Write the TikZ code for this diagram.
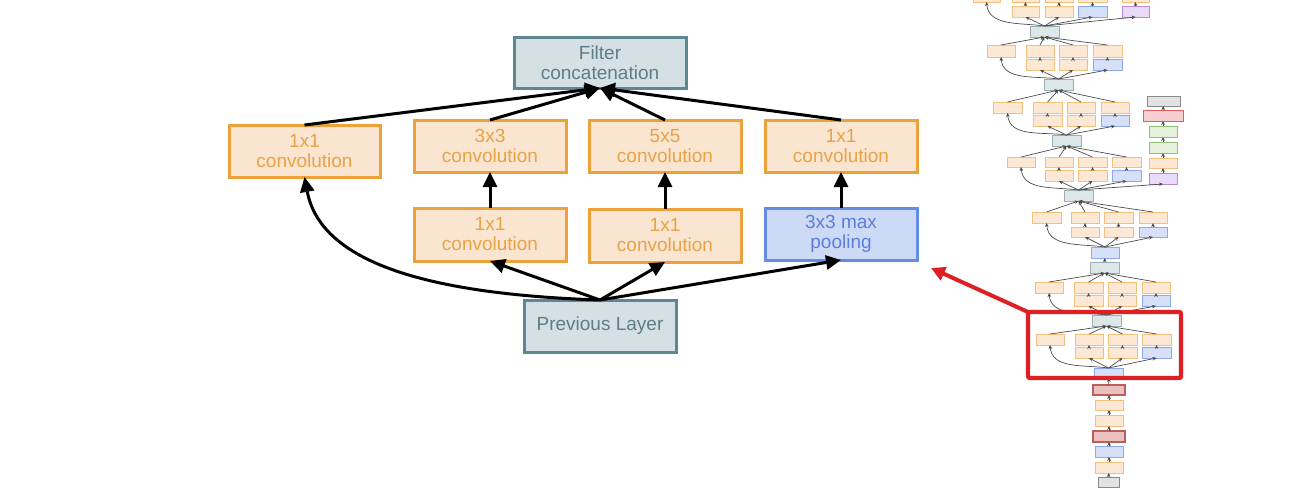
\documentclass[tikz,border=0pt]{standalone}
\usepackage{fontspec}
\setmainfont{Liberation Sans}
\usetikzlibrary{arrows.meta}
\definecolor{morange}{RGB}{238,160,58}
\definecolor{morangef}{RGB}{250,229,208}
\definecolor{morangetx}{RGB}{232,162,72}
\definecolor{mgray}{RGB}{95,135,145}
\definecolor{mgrayf}{RGB}{213,224,228}
\definecolor{mgraytx}{RGB}{95,125,135}
\definecolor{mblue}{RGB}{100,140,230}
\definecolor{mbluef}{RGB}{205,218,245}
\definecolor{mbluetx}{RGB}{95,125,220}
\definecolor{hred}{RGB}{222,32,36}
\definecolor{torange}{RGB}{243,192,124}
\definecolor{torangef}{RGB}{252,232,212}
\definecolor{tblue}{RGB}{143,168,236}
\definecolor{tbluef}{RGB}{214,224,248}
\definecolor{tgray}{RGB}{154,176,182}
\definecolor{tgrayf}{RGB}{221,230,232}
\definecolor{tpurple}{RGB}{181,138,224}
\definecolor{tpurplef}{RGB}{234,220,248}
\definecolor{tlrn}{RGB}{184,96,96}
\definecolor{tlrnf}{RGB}{237,192,192}
\definecolor{tsm}{RGB}{224,96,96}
\definecolor{tsmf}{RGB}{246,208,208}
\definecolor{tgreen}{RGB}{147,191,122}
\definecolor{tgreenf}{RGB}{228,242,220}
\definecolor{tgrey}{RGB}{138,138,138}
\definecolor{tgreyf}{RGB}{226,226,226}
\newcommand\mbx[7]{\node[#2, minimum width={#5*0.5pt}, minimum height={#6*0.5pt}] (#1) at (#3,#4) {#7};}
\newcommand\tbx[6]{\node[#2, minimum width={(#5-#3)*0.5pt}, minimum height={(#6-#4)*0.5pt}] (#1) at ({(#3+#5)/2},{(#4+#6)/2}) {};}
\newcommand\incin[2]{%
  \draw[tc] (#2.north) to[out=172,in=-85] (#1u1.south);
  \foreach \k in {2,3,4}{\draw[tc] (#2.north) -- (#1l\k.south); \draw[tc] (#1l\k.north) -- (#1u\k.south);}
}
\newcommand\incout[2]{%
  \foreach \k in {1,2,3,4}{\draw[tc] (#1u\k.north) -- (#2.south);}
}
\begin{document}
\begin{tikzpicture}[x=0.5pt,y=-0.5pt,
  mbox/.style={draw, line width=1.5pt, inner sep=0pt, outer sep=0pt, align=center, font=\fontsize{9.5}{10}\selectfont},
  mo/.style={mbox, draw=morange, fill=morangef, text=morangetx},
  mg/.style={mbox, draw=mgray, fill=mgrayf, text=mgraytx},
  mb/.style={mbox, draw=mblue, fill=mbluef, text=mbluetx},
  marr/.style={line width=1.5pt, black, -{Triangle[length=7.5pt,width=7pt]}},
  harr/.style={line width=2pt, hred, -{Triangle[length=7pt,width=7pt]}},
  tbase/.style={draw, line width=0.5pt, inner sep=0pt, outer sep=0pt},
  to/.style={tbase, draw=torange, fill=torangef},
  tb/.style={tbase, draw=tblue, fill=tbluef},
  tg/.style={tbase, draw=tgray, fill=tgrayf},
  tp/.style={tbase, draw=tpurple, fill=tpurplef},
  tr/.style={tbase, draw=tlrn, fill=tlrnf, line width=0.7pt},
  ts/.style={tbase, draw=tsm, fill=tsmf},
  tgr/.style={tbase, draw=tgreen, fill=tgreenf},
  tgy/.style={tbase, draw=tgrey, fill=tgreyf},
  tc/.style={draw=black!70, line width=0.35pt, -{Stealth[length=2pt,width=1.8pt]}},
  hbox/.style={draw=hred, line width=2.2pt, inner sep=0pt, outer sep=0pt, rounded corners=1pt}
]
\useasboundingbox (0,0) rectangle (1310,493);

% ---------------- main inception module ----------------
\mbx{concat}{mg}{600}{62.5}{172}{51}{Filter\\concatenation}
\mbx{c1}{mo}{304.5}{151}{151}{52}{1x1\\convolution}
\mbx{c3}{mo}{490}{146}{152}{52}{3x3\\convolution}
\mbx{c5}{mo}{665}{146}{152}{52}{5x5\\convolution}
\mbx{cp}{mo}{841}{146}{152}{52}{1x1\\convolution}
\mbx{r3}{mo}{490}{234.5}{152}{53}{1x1\\convolution}
\mbx{r5}{mo}{665}{235.5}{152}{53}{1x1\\convolution}
\mbx{pool}{mb}{841}{234}{152}{52}{3x3 max\\pooling}
\mbx{prev}{mg}{600}{326}{152}{52}{Previous Layer}

\foreach \n in {c1,c3,c5,cp}{\draw[marr] (\n.north) -- (concat.south);}
\draw[marr] (r3.north) -- (c3.south);
\draw[marr] (r5.north) -- (c5.south);
\draw[marr] (pool.north) -- (cp.south);
\draw[marr] (prev.north) .. controls (420,294) and (320,260) .. (c1.south);
\draw[marr] (prev.north) -- (r3.south);
\draw[marr] (prev.north) -- (r5.south);
\draw[marr] (prev.north) -- (pool.south);

% ---------------- thumbnail network ----------------
\begin{scope}
\clip (0,0) rectangle (1310,493);
% stem
\tbx{p1}{tb}{1094}{368}{1123}{378}
\tbx{lrn1}{tr}{1093}{385}{1125}{395}
\tbx{s1}{to}{1095}{400}{1123}{410}
\tbx{s2}{to}{1095}{415}{1123}{426}
\tbx{lrn2}{tr}{1093}{431}{1125}{442}
\tbx{s3}{tb}{1095}{446}{1123}{457}
\tbx{s4}{to}{1095}{462}{1123}{473}
\tbx{inp}{tgy}{1098}{477}{1119}{487}
\draw[tc] (inp) -- (s4); \draw[tc] (s4) -- (s3); \draw[tc] (s3) -- (lrn2);
\draw[tc] (lrn2) -- (s2); \draw[tc] (s2) -- (s1); \draw[tc] (s1) -- (lrn1);
\draw[tc] (lrn1) -- (p1);
% module A
\tbx{dA}{tg}{1092}{315}{1121}{326}
\tbx{Au1}{to}{1036}{334}{1064}{345}
\tbx{Au2}{to}{1075}{334}{1103}{345}
\tbx{Au3}{to}{1108}{334}{1137}{345}
\tbx{Au4}{to}{1142}{334}{1171}{345}
\tbx{Al2}{to}{1075}{347}{1103}{358}
\tbx{Al3}{to}{1108}{347}{1137}{358}
\tbx{Al4}{tb}{1142}{347}{1171}{358}
\incin{A}{p1}\incout{A}{dA}
% module B
\tbx{dB}{tg}{1090}{262}{1119}{273}
\tbx{Bu1}{to}{1035}{282}{1063}{293}
\tbx{Bu2}{to}{1074}{282}{1103}{293}
\tbx{Bu3}{to}{1108}{282}{1136}{293}
\tbx{Bu4}{to}{1142}{282}{1170}{293}
\tbx{Bl2}{to}{1074}{295}{1103}{306}
\tbx{Bl3}{to}{1108}{295}{1136}{306}
\tbx{Bl4}{tb}{1142}{295}{1170}{306}
\incin{B}{dA}\incout{B}{dB}
\tbx{mp2}{tb}{1091}{247}{1119}{258}
\draw[tc] (dB) -- (mp2);
% module C
\tbx{dC}{tg}{1064}{190}{1093}{201}
\tbx{Cu1}{to}{1032}{212}{1061}{223}
\tbx{Cu2}{to}{1071}{212}{1099}{223}
\tbx{Cu3}{to}{1104}{212}{1133}{223}
\tbx{Cu4}{to}{1139}{212}{1167}{223}
\tbx{Cl2}{to}{1071}{227}{1099}{237}
\tbx{Cl3}{to}{1104}{227}{1133}{237}
\tbx{Cl4}{tb}{1139}{227}{1167}{237}
\incin{C}{mp2}\incout{C}{dC}
% module D
\tbx{dD}{tg}{1052}{135}{1081}{146}
\tbx{Du1}{to}{1007}{157}{1035}{167}
\tbx{Du2}{to}{1045}{157}{1073}{167}
\tbx{Du3}{to}{1078}{157}{1107}{167}
\tbx{Du4}{to}{1112}{157}{1141}{167}
\tbx{Dl2}{to}{1045}{170}{1073}{181}
\tbx{Dl3}{to}{1078}{170}{1107}{181}
\tbx{Dl4}{tb}{1112}{170}{1141}{181}
\incin{D}{dC}\incout{D}{dD}
% auxiliary classifier 1
\tbx{ap1}{tp}{1149}{173}{1177}{184}
\tbx{ac1}{to}{1149}{158}{1177}{168}
\tbx{af1}{tgr}{1149}{142}{1177}{153}
\tbx{af2}{tgr}{1149}{126}{1177}{137}
\tbx{asm}{ts}{1143}{110}{1183}{121}
\tbx{asx}{tgy}{1147}{96}{1180}{106}
\draw[tc] (dC.north) -- (ap1.south);
\draw[tc] (ap1) -- (ac1); \draw[tc] (ac1) -- (af1); \draw[tc] (af1) -- (af2);
\draw[tc] (af2) -- (asm); \draw[tc] (asm) -- (asx);
% module E
\tbx{dE}{tg}{1044}{79}{1073}{90}
\tbx{Eu1}{to}{993}{102}{1022}{113}
\tbx{Eu2}{to}{1033}{102}{1062}{113}
\tbx{Eu3}{to}{1067}{102}{1095}{113}
\tbx{Eu4}{to}{1101}{102}{1129}{113}
\tbx{El2}{to}{1033}{115}{1062}{126}
\tbx{El3}{to}{1067}{115}{1095}{126}
\tbx{El4}{tb}{1101}{115}{1129}{126}
\incin{E}{dD}\incout{E}{dE}
% module F
\tbx{dF}{tg}{1030}{26}{1059}{37}
\tbx{Fu1}{to}{987}{45}{1015}{57}
\tbx{Fu2}{to}{1026}{45}{1054}{57}
\tbx{Fu3}{to}{1059}{45}{1087}{57}
\tbx{Fu4}{to}{1093}{45}{1122}{57}
\tbx{Fl2}{to}{1026}{59}{1054}{70}
\tbx{Fl3}{to}{1059}{59}{1087}{70}
\tbx{Fl4}{tb}{1093}{59}{1122}{70}
\incin{F}{dE}\incout{F}{dF}
% module G (cut off)
\tbx{Gu1}{to}{973}{-9}{1000}{2}
\tbx{Gu2}{to}{1012}{-9}{1039}{2}
\tbx{Gu3}{to}{1045}{-9}{1073}{2}
\tbx{Gu4}{to}{1078}{-9}{1107}{2}
\tbx{Gl2}{to}{1012}{6}{1039}{17}
\tbx{Gl3}{to}{1045}{6}{1073}{17}
\tbx{Gl4}{tb}{1078}{6}{1107}{17}
\incin{G}{dF}
% auxiliary classifier 2 (cut off)
\tbx{ap2}{tp}{1122}{6}{1149}{17}
\tbx{ac2}{to}{1122}{-9}{1149}{2}
\draw[tc] (dF.north) -- (ap2.south);
\draw[tc] (ap2) -- (ac2);
\end{scope}

% highlight box and arrow
\node[hbox, minimum width={153*0.5pt}, minimum height={66*0.5pt}] (hl) at (1104.5,345) {};
\coordinate (htip) at (931,268);
\draw[harr] (hl.north west) -- (htip);
\end{tikzpicture}
\end{document}
